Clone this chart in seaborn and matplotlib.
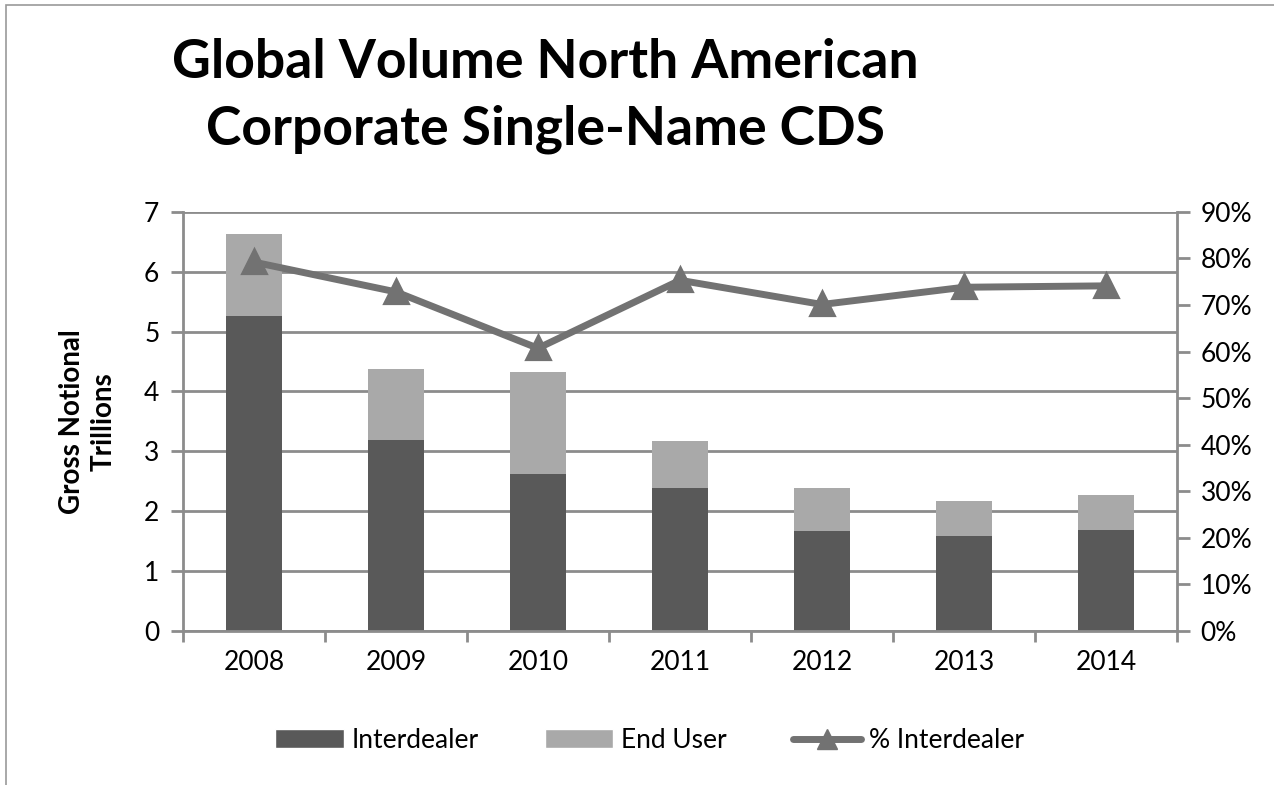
import pandas as pd
import seaborn as sns
import matplotlib.pyplot as plt
import matplotlib.ticker as tick
from matplotlib.patches import Patch, Rectangle
from matplotlib.lines import Line2D

years = ['2008', '2009', '2010', '2011', '2012', '2013', '2014']
interdealer = [5.26, 3.19, 2.62, 2.38, 1.67, 1.59, 1.69]
end_user = [1.37, 1.18, 1.70, 0.79, 0.71, 0.58, 0.58]
pct_interdealer = [79.2, 72.8, 60.7, 75.3, 70.1, 73.8, 74.1]

dark = '#595959'
light = '#a9a9a9'
line_col = '#727272'
grid_col = '#8c8c8c'

df = pd.DataFrame({'year': years, 'inter': interdealer, 'end': end_user, 'pct': pct_interdealer})
df['total'] = df['inter'] + df['end']

sns.set_style('white')
plt.rcParams['font.family'] = ['Lato', 'DejaVu Sans']
plt.rcParams['text.color'] = 'black'
plt.rcParams['xtick.labelcolor'] = 'black'
plt.rcParams['ytick.labelcolor'] = 'black'
plt.rcParams['axes.labelcolor'] = 'black'

fig = plt.figure(figsize=(12.74, 7.85), dpi=100)
ax = fig.add_axes([0.1436, 0.1962, 0.7803, 0.534])

sns.barplot(x='year', y='total', data=df, color=light, width=0.4, saturation=1,
            edgecolor='none', linewidth=0, ax=ax)
sns.barplot(x='year', y='inter', data=df, color=dark, width=0.4, saturation=1,
            edgecolor='none', linewidth=0, ax=ax)

ax.set_ylim(0, 7)
ax.set_xlim(-0.5, 6.5)
ax.yaxis.set_major_locator(tick.MultipleLocator(1))
ax.grid(True, axis='y', color=grid_col, linewidth=2)
ax.set_axisbelow(True)
ax.set_xlabel('')
ax.set_ylabel('Gross Notional\nTrillions', fontsize=20, fontweight='bold', labelpad=20,
              linespacing=1.25)
for s in ['top', 'right']:
    ax.spines[s].set_visible(False)
for s in ['left', 'bottom']:
    ax.spines[s].set_color(grid_col)
    ax.spines[s].set_linewidth(2)
ax.tick_params(axis='y', which='major', direction='out', length=9, width=2, color=grid_col,
               labelsize=19, left=True, pad=8)
ax.tick_params(axis='x', which='major', length=0, labelsize=19, pad=14)
ax.set_xticks([i - 0.5 for i in range(8)], minor=True)
ax.tick_params(axis='x', which='minor', direction='out', length=8, width=2, color=grid_col, bottom=True)

ax2 = ax.twinx()
sns.pointplot(x='year', y='pct', data=df, color=line_col, markers='^', markersize=15,
              linewidth=5, ax=ax2)
ax2.set_ylim(0, 90)
ax2.set_xlim(-0.5, 6.5)
ax2.yaxis.set_major_locator(tick.MultipleLocator(10))
ax2.yaxis.set_major_formatter(tick.FuncFormatter(lambda v, _: f'{int(round(v))}%'))
ax2.set_ylabel('')
ax2.set_xlabel('')
for s in ['top', 'left', 'bottom']:
    ax2.spines[s].set_visible(False)
ax2.spines['right'].set_color(grid_col)
ax2.spines['right'].set_linewidth(2)
ax2.tick_params(axis='y', direction='out', length=9, width=2, color=grid_col, labelsize=19,
                right=True, pad=8)
ax2.grid(False)

fig.text(0.428, 0.92, 'Global Volume North American', ha='center', va='center',
         fontsize=38.5, fontweight='bold')
fig.text(0.428, 0.835, 'Corporate Single-Name CDS', ha='center', va='center',
         fontsize=38.5, fontweight='bold')

handles = [Patch(facecolor=dark, label='Interdealer'),
           Patch(facecolor=light, label='End User'),
           Line2D([0], [0], color=line_col, linewidth=5, marker='^', markersize=15,
                  label='% Interdealer')]
fig.legend(handles=handles, loc='center', bbox_to_anchor=(0.51, 0.057), ncol=3,
           frameon=False, fontsize=19, handlelength=2.6, columnspacing=2.5, handletextpad=0.3)

fig.patches.append(Rectangle((0.005, -0.01), 1.2, 1.003, transform=fig.transFigure,
                             fill=False, edgecolor='#999999', linewidth=1.2))

fig.savefig('out.png', dpi=100)
